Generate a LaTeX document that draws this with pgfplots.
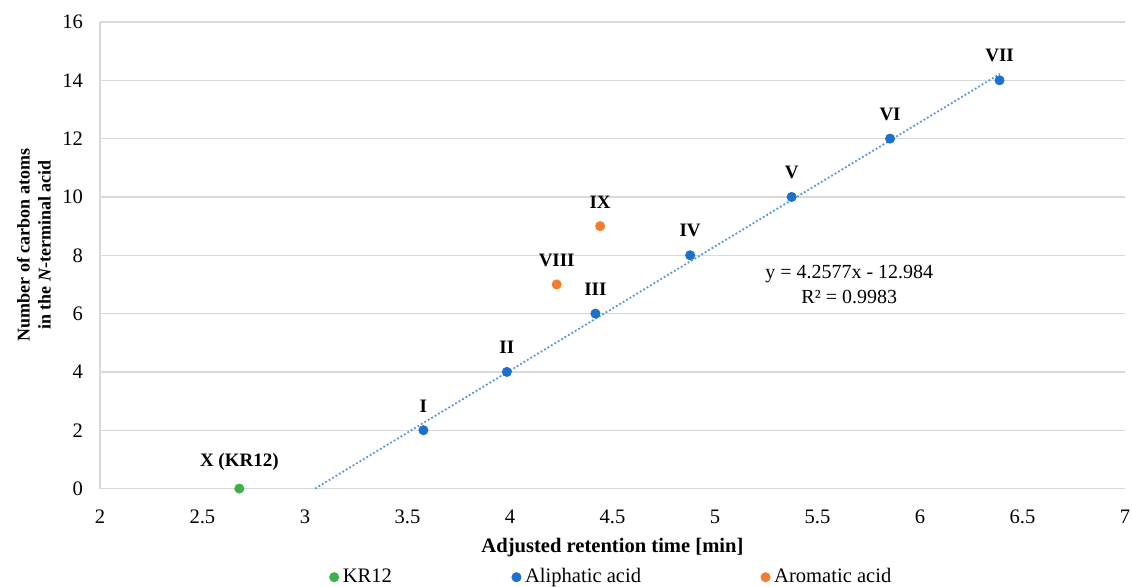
\documentclass[border=0pt]{standalone}
\usepackage{fontspec}
\setmainfont{Liberation Serif}
\usepackage{pgfplots}
\pgfplotsset{compat=1.18}
\definecolor{cblue}{RGB}{30,112,205}
\definecolor{cgreen}{RGB}{62,176,72}
\definecolor{corange}{RGB}{243,125,47}
\definecolor{ctrend}{RGB}{84,150,222}
\begin{document}
\begin{tikzpicture}[font=\fontsize{10.3}{12}\selectfont]
\begin{axis}[
  scale only axis, width=513pt, height=233.5pt,
  xmin=2, xmax=7, ymin=0, ymax=16,
  xtick={2,2.5,...,7}, ytick={0,2,...,16},
  /pgf/number format/assume math mode=true,
  ymajorgrids, grid style={draw=black!15, line width=0.6pt},
  axis lines*=left, axis line style={draw=black!15, line width=0.6pt, -},
  major tick length=0pt,
  xticklabel style={yshift=-7pt}, yticklabel style={xshift=-5pt},
  xlabel={\textbf{Adjusted retention time [min]}},
  xlabel style={at={(axis description cs:0.5,-0.126)}, anchor=center},
  ylabel={\textbf{Number of carbon atoms}\\\textbf{in the \textit{N}-terminal acid}},
  ylabel style={at={(axis description cs:-0.041,0.522)}, anchor=south, align=center, font=\fontsize{9}{10.5}\selectfont},
  legend style={at={(0.5,-0.19)}, anchor=center, draw=none, legend columns=3,
    /tikz/every even column/.append style={column sep=58pt}},
  legend cell align=left,
  every node near coord/.append style={anchor=south, yshift=5.5pt, text=black, font=\fontsize{9.5}{11}\selectfont\bfseries},
  clip=false,
]
\addplot[only marks, mark=*, mark size=2.3pt, color=cgreen, point meta=explicit symbolic, nodes near coords]
  coordinates {(2.68,0) [X (KR12)]};
\addlegendentry{KR12}
\addplot[only marks, mark=*, mark size=2.3pt, color=cblue, point meta=explicit symbolic, nodes near coords]
  coordinates {(3.578,2) [I] (3.985,4) [II] (4.417,6) [III] (4.879,8) [IV] (5.374,10) [V] (5.854,12) [VI] (6.388,14) [VII]};
\addlegendentry{Aliphatic acid}
\addplot[only marks, mark=*, mark size=2.3pt, color=corange, point meta=explicit symbolic, nodes near coords]
  coordinates {(4.228,7) [VIII] (4.44,9) [IX]};
\addlegendentry{Aromatic acid}
\addplot[color=ctrend, line width=0.9pt, dash pattern=on 0.9pt off 1.1pt, forget plot]
  coordinates {(3.0496,0) (6.39,14.22)};
\node[align=center, anchor=center, font=\fontsize{10}{12.5}\selectfont] at (axis cs:5.655,6.99) {y = 4.2577x - 12.984\\R² = 0.9983};
\end{axis}
\pgfresetboundingbox
\path ([shift={(-50pt,-49pt)}]current axis.south west) rectangle ([shift={(3.5pt,11pt)}]current axis.north east);
\end{tikzpicture}
\end{document}
